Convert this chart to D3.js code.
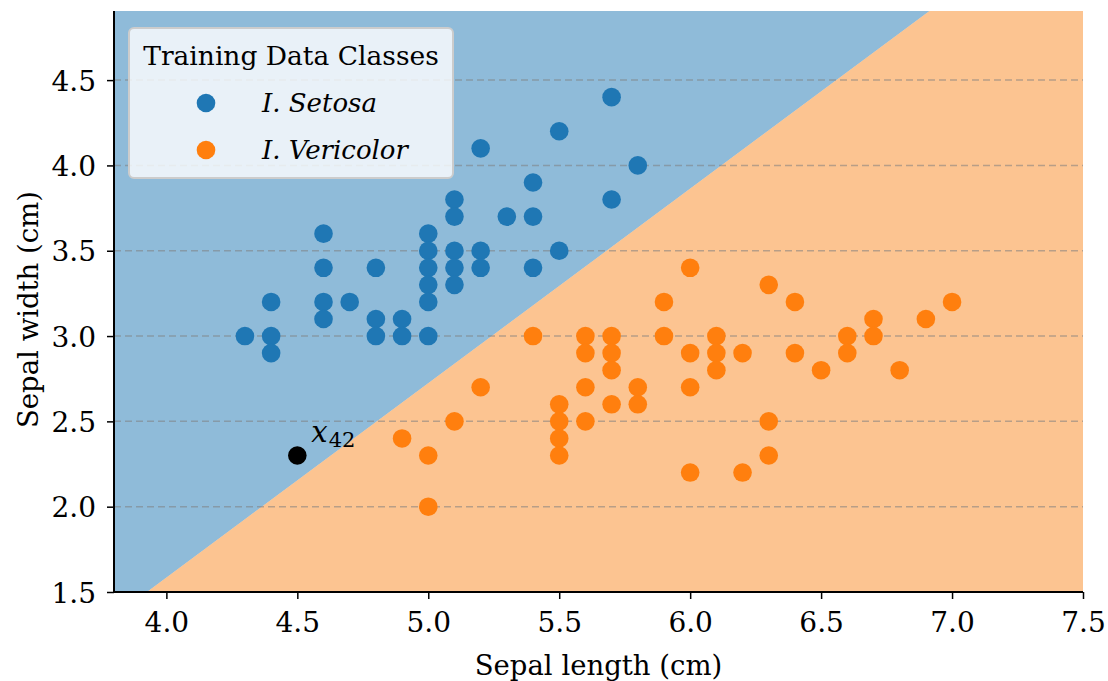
<!DOCTYPE html>
<html lang="en">
  <head>
    <meta charset="UTF-8" />
    <title>Iris training data and decision boundary</title>
    <script src="https://d3js.org/d3.v7.min.js"></script>
    <style>
      body { margin: 0; background: #fff; }
      text { font-family: "DejaVu Serif", serif; fill: #000; }
    </style>
  </head>
  <body>
    <div id="viz"></div>
    <script>
      // sepal length / width
      const setosaLength = [4.3, 4.4, 4.4, 4.4, 4.6, 4.6, 4.6, 4.6, 4.7, 4.8, 4.8, 4.8, 4.9, 4.9,
        5.0, 5.0, 5.0, 5.0, 5.0, 5.0, 5.1, 5.1, 5.1, 5.1, 5.1, 5.2, 5.2, 5.2, 5.3, 5.4, 5.4, 5.4,
        5.5, 5.5, 5.7, 5.7, 5.8];
      const setosaWidth = [3.0, 3.2, 3.0, 2.9, 3.6, 3.4, 3.2, 3.1, 3.2, 3.4, 3.1, 3.0, 3.1, 3.0,
        3.6, 3.5, 3.4, 3.3, 3.2, 3.0, 3.8, 3.7, 3.5, 3.4, 3.3, 4.1, 3.5, 3.4, 3.7, 3.9, 3.7, 3.4,
        4.2, 3.5, 4.4, 3.8, 4.0];
      const versiLength = [4.9, 5.0, 5.0, 5.1, 5.2, 5.4, 5.5, 5.5, 5.5, 5.5, 5.6, 5.6, 5.6, 5.6,
        5.7, 5.7, 5.7, 5.7, 5.8, 5.8, 5.9, 5.9, 6.0, 6.0, 6.0, 6.0, 6.1, 6.1, 6.1, 6.2, 6.2,
        6.3, 6.3, 6.3, 6.4, 6.4, 6.5, 6.6, 6.6, 6.7, 6.7, 6.8, 6.9, 7.0];
      const versiWidth = [2.4, 2.3, 2.0, 2.5, 2.7, 3.0, 2.6, 2.5, 2.4, 2.3, 3.0, 2.9, 2.7, 2.5,
        3.0, 2.9, 2.8, 2.6, 2.7, 2.6, 3.2, 3.0, 3.4, 2.9, 2.7, 2.2, 3.0, 2.9, 2.8, 2.9, 2.2,
        3.3, 2.5, 2.3, 3.2, 2.9, 2.8, 3.0, 2.9, 3.1, 3.0, 2.8, 3.1, 3.2];
      const testPoint = [4.5, 2.3];
      // boundary: width = slope * length + intercept
      const boundarySlope = 1.1396;
      const boundaryIntercept = -2.974;
      const xTicks = [4.0, 4.5, 5.0, 5.5, 6.0, 6.5, 7.0, 7.5];
      const yTicks = [1.5, 2.0, 2.5, 3.0, 3.5, 4.0, 4.5];
      const legendLabels = ["I. Setosa", "I. Vericolor"];

      const blue = "#1f77b4", orange = "#ff7f0e";
      const W = 1108, H = 681;
      const margin = { top: 11, right: 25, bottom: 89, left: 114 };
      const width = W - margin.left - margin.right,
        height = H - margin.top - margin.bottom;

      const svg = d3.select("#viz").append("svg")
        .attr("width", W).attr("height", H);
      const g = svg.append("g")
        .attr("transform", "translate(" + margin.left + "," + margin.top + ")");

      const x = d3.scaleLinear().domain([3.8, 7.5]).range([0, width]);
      const y = d3.scaleLinear().domain([1.5, 4.905]).range([height, 0]);

      // decision regions
      const [x0, x1] = x.domain(), [y0, y1] = y.domain();
      const bx = yy => (yy - boundaryIntercept) / boundarySlope;
      const above = [[x0, y0], [bx(y0), y0], [bx(y1), y1], [x0, y1]];
      const below = [[bx(y0), y0], [x1, y0], [x1, y1], [bx(y1), y1]];
      const poly = d3.line().x(d => x(d[0])).y(d => y(d[1]));
      g.append("path").attr("d", poly(above) + "Z").attr("fill", blue).attr("fill-opacity", 0.5);
      g.append("path").attr("d", poly(below) + "Z").attr("fill", "#f98a24").attr("fill-opacity", 0.5);

      // grid
      g.selectAll(".grid").data(yTicks.slice(1)).join("line")
        .attr("x1", 0).attr("x2", width)
        .attr("y1", d => y(d)).attr("y2", d => y(d))
        .attr("stroke", "#808080").attr("stroke-opacity", 0.55)
        .attr("stroke-width", 1.5).attr("stroke-dasharray", "7,4");

      // axes
      const xAxis = g.append("g").attr("transform", "translate(0," + height + ")")
        .call(d3.axisBottom(x).tickValues(xTicks).tickFormat(d3.format(".1f")).tickSize(7).tickPadding(8));
      const yAxis = g.append("g")
        .call(d3.axisLeft(y).tickValues(yTicks).tickFormat(d3.format(".1f")).tickSize(7).tickPadding(11));
      [xAxis, yAxis].forEach(a => {
        a.attr("font-family", null).attr("font-size", null);
        a.selectAll("text").style("font-size", "28px");
        a.selectAll("line").attr("stroke", "#000").attr("stroke-width", 1.5);
        a.select(".domain").attr("stroke", "#000").attr("stroke-width", 2);
      });
      xAxis.select(".domain").attr("d", "M0,0H" + width);
      yAxis.select(".domain").attr("d", "M0," + height + "V0");
      xAxis.selectAll("text").attr("dy", "0.88em");
      yAxis.selectAll("text").attr("dy", "0.36em");

      g.append("text").attr("x", width / 2).attr("y", height + 83)
        .attr("text-anchor", "middle").style("font-size", "27.5px").text("Sepal length (cm)");
      g.append("text").attr("transform", "translate(-76," + (height / 2 + 8) + ") rotate(-90)")
        .attr("text-anchor", "middle").style("font-size", "27.5px").text("Sepal width (cm)");

      // points
      const r = 9.3;
      g.selectAll(".setosa").data(setosaLength).join("circle")
        .attr("cx", d => x(d)).attr("cy", (d, i) => y(setosaWidth[i]))
        .attr("r", r).attr("fill", blue);
      g.selectAll(".versi").data(versiLength).join("circle")
        .attr("cx", d => x(d)).attr("cy", (d, i) => y(versiWidth[i]))
        .attr("r", r).attr("fill", orange);
      g.append("circle").attr("cx", x(testPoint[0])).attr("cy", y(testPoint[1]))
        .attr("r", r).attr("fill", "#000");
      const lab = g.append("text")
        .attr("x", x(testPoint[0]) + 14).attr("y", y(testPoint[1]) - 13);
      lab.append("tspan").style("font-family", "'DejaVu Serif'").style("font-style", "italic")
        .style("font-size", "29px").text("x");
      lab.append("tspan").attr("dy", 5).attr("dx", 1).style("font-size", "21px").text("42");

      // legend
      const leg = g.append("g").attr("transform", "translate(15,17)");
      leg.append("rect").attr("width", 324).attr("height", 150).attr("rx", 5)
        .attr("fill", "#fff").attr("fill-opacity", 0.8)
        .attr("stroke", "#cccccc").attr("stroke-width", 2);
      leg.append("text").attr("x", 162).attr("y", 37).attr("text-anchor", "middle")
        .style("font-size", "26.5px").text("Training Data Classes");
      leg.selectAll(".item").data(legendLabels).join("g")
        .attr("transform", (d, i) => "translate(0," + (75 + i * 47) + ")")
        .each(function (d, i) {
          const it = d3.select(this);
          it.append("circle").attr("cx", 77).attr("cy", 0).attr("r", r)
            .attr("fill", i === 0 ? blue : orange);
          it.append("text").attr("x", 133).attr("dy", "0.36em")
            .style("font-size", "26px").style("font-style", "italic").text(d);
        });
    </script>
  </body>
</html>
